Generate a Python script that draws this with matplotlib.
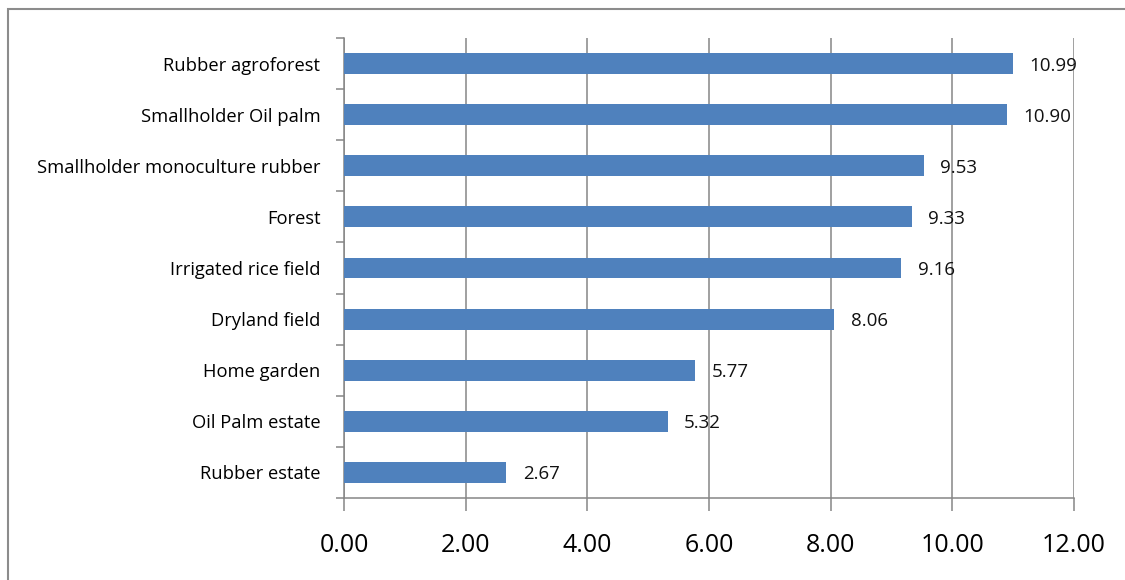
import matplotlib.pyplot as plt
import numpy as np
from matplotlib.patches import Rectangle

# Land-use categories (bottom to top) and their values
land_use = ["Rubber estate", "Oil Palm estate", "Home garden", "Dryland field",
            "Irrigated rice field", "Forest", "Smallholder monoculture rubber",
            "Smallholder Oil palm", "Rubber agroforest"]
values = [2.67, 5.32, 5.77, 8.06, 9.16, 9.33, 9.53, 10.90, 10.99]
x_ticks = [0, 2, 4, 6, 8, 10, 12]

plt.rcParams['font.family'] = ['Open Sans', 'DejaVu Sans']

fig = plt.figure(figsize=(11.25, 5.8), dpi=100)
ax = fig.add_axes([344 / 1125, 1 - 498 / 580, 730 / 1125, 460 / 580])

grey = "#868686"
pos = np.arange(len(land_use))
ax.barh(pos, values, height=0.41, color="#4F81BD", zorder=3)

for y, v in zip(pos, values):
    ax.text(v + 0.27, y - 0.04, f"{v:.2f}", va="center", ha="left",
            fontsize=13.5, color="#111111", zorder=4)

ax.set_xlim(0, 12)
ax.set_ylim(-0.5, len(land_use) - 0.5)
ax.set_xticks(x_ticks)
ax.set_xticklabels([f"{t:.2f}" for t in x_ticks], fontsize=18)
ax.set_yticks(pos)
ax.set_yticklabels(land_use, fontsize=13.2)
ax.set_yticks(np.arange(len(land_use) + 1) - 0.5, minor=True)

ax.grid(axis="x", color=grey, linewidth=1.1, zorder=0)
for side in ["top", "right"]:
    ax.spines[side].set_visible(False)
for side in ["left", "bottom"]:
    ax.spines[side].set_color(grey)
    ax.spines[side].set_linewidth(1.1)

ax.tick_params(axis="y", which="major", length=0, pad=17)
ax.tick_params(axis="y", which="minor", length=6, width=1.1, color=grey)
ax.tick_params(axis="x", length=9, width=1.1, color=grey, pad=16)

# outer chart frame
fig.patches.append(Rectangle((8 / 1125, -0.1), 1.2, 1.1 - 9 / 580,
                             transform=fig.transFigure, fill=False,
                             edgecolor="#8c8c8c", linewidth=1.5))

fig.savefig("out.png", dpi=100)
